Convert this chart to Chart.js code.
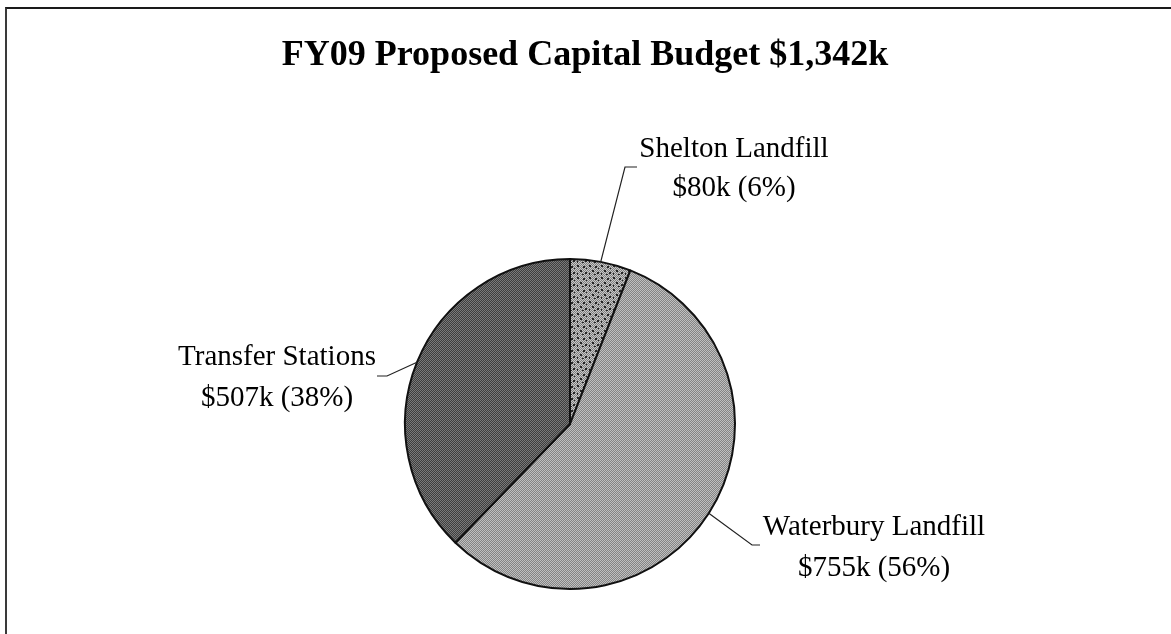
<!DOCTYPE html>
<html>
<head>
<meta charset="utf-8">
<title>FY09 Proposed Capital Budget</title>
<script src="https://cdn.jsdelivr.net/npm/chart.js@4.4.1/dist/chart.umd.min.js"></script>
<style>
  body { margin: 0; background: #fff; }
  #wrap { position: relative; width: 1171px; height: 634px; overflow: hidden; }
  #frame { position: absolute; left: 5px; top: 7px; width: 1300px; height: 700px;
           border-top: 2px solid #1a1a1a; border-left: 2px solid #3a3a3a; }
  canvas { position: absolute; left: 0; top: 0; }
</style>
</head>
<body>
<div id="wrap">
  <div id="frame"></div>
  <canvas id="budgetChart" width="1171" height="634"></canvas>
</div>
<script>
// chart data
const chartTitle = 'FY09 Proposed Capital Budget $1,342k';
const categories = ['Shelton Landfill', 'Waterbury Landfill', 'Transfer Stations'];
const amounts = [80, 755, 507]; // $k

const total = amounts.reduce((a, b) => a + b, 0);
const valueLabels = amounts.map(v => '$' + v + 'k (' + Math.round(v / total * 100) + '%)');

const canvas = document.getElementById('budgetChart');
const ctx = canvas.getContext('2d');

// halftone-ish fills, like the scanned original
function makeFill(light, dark, specks) {
  const tile = document.createElement('canvas');
  tile.width = 12; tile.height = 12;
  const g = tile.getContext('2d');
  for (let y = 0; y < 12; y++) {
    for (let x = 0; x < 12; x++) {
      g.fillStyle = (x + y) % 2 ? dark : light;
      g.fillRect(x, y, 1, 1);
    }
  }
  if (specks) {
    g.fillStyle = '#262626';
    specks.forEach(s => g.fillRect(s[0], s[1], s[2], s[3]));
  }
  return ctx.createPattern(tile, 'repeat');
}

const sheltonFill = makeFill('#c8c8c8', '#7c7c7c',
  [[1, 1, 2, 2], [7, 2, 2, 2], [4, 6, 2, 2], [9, 8, 2, 2], [1, 9, 1, 2], [10, 4, 1, 1], [6, 10, 2, 1]]);
const waterburyFill = makeFill('#c0c0c0', '#848484');
const transferFill = makeFill('#7a7a7a', '#3e3e3e');

// label / leader line placement, offsets from the pie centre
const labelPlaces = [
  { elbow: [55, -257], tick: [67, -257], text: [164, -267, -228] },
  { elbow: [182, 121], tick: [190, 121], text: [304, 111, 152] },
  { elbow: [-183, -48], tick: [-193, -48], text: [-293, -59, -18] }
];

const leaderLabels = {
  id: 'leaderLabels',
  afterDraw(chart) {
    const c = chart.ctx;
    const arcs = chart.getDatasetMeta(0).data;
    c.save();
    // title
    c.fillStyle = '#000';
    c.textAlign = 'center';
    c.textBaseline = 'alphabetic';
    c.font = 'bold 36px "Liberation Serif", "Times New Roman", serif';
    c.fillText(chartTitle, 585, 65);

    c.font = '29px "Liberation Serif", "Times New Roman", serif';
    c.strokeStyle = '#222';
    c.lineWidth = 1.2;
    arcs.forEach((arc, i) => {
      const p = arc.getProps(['x', 'y', 'startAngle', 'endAngle', 'outerRadius'], true);
      const mid = (p.startAngle + p.endAngle) / 2;
      const place = labelPlaces[i];
      c.beginPath();
      c.moveTo(p.x + Math.cos(mid) * p.outerRadius, p.y + Math.sin(mid) * p.outerRadius);
      c.lineTo(p.x + place.elbow[0], p.y + place.elbow[1]);
      c.lineTo(p.x + place.tick[0], p.y + place.tick[1]);
      c.stroke();
      c.fillText(categories[i], p.x + place.text[0], p.y + place.text[1]);
      c.fillText(valueLabels[i], p.x + place.text[0], p.y + place.text[2]);
    });
    c.restore();
  }
};

new Chart(ctx, {
  type: 'pie',
  data: {
    labels: categories,
    datasets: [{
      data: amounts,
      backgroundColor: [sheltonFill, waterburyFill, transferFill],
      borderColor: '#111',
      borderWidth: 2
    }]
  },
  options: {
    responsive: false,
    animation: false,
    devicePixelRatio: 1,
    layout: { padding: { top: 258, bottom: 44, left: 0, right: 31 } },
    plugins: {
      legend: { display: false },
      tooltip: { enabled: false },
      title: { display: false }
    }
  },
  plugins: [leaderLabels]
});
</script>
</body>
</html>
